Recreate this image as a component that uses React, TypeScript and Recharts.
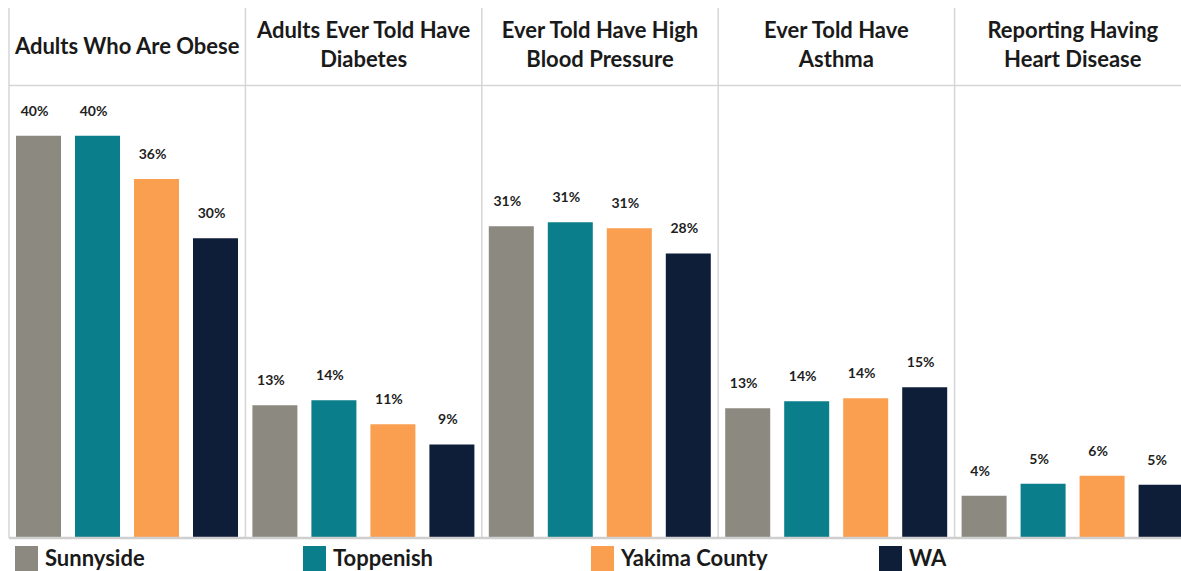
import { BarChart, Bar, XAxis, YAxis, CartesianGrid, ReferenceLine, LabelList, Legend } from 'recharts';

const categories = [
  'Adults Who Are Obese',
  'Adults Ever Told Have\nDiabetes',
  'Ever Told Have High\nBlood Pressure',
  'Ever Told Have\nAsthma',
  'Reporting Having\nHeart Disease',
];

const sunnyside = [40.0, 13.2, 31.0, 12.9, 4.2];
const toppenish = [40.0, 13.7, 31.4, 13.6, 5.4];
const yakimaCounty = [35.7, 11.3, 30.8, 13.9, 6.2];
const wa = [29.8, 9.3, 28.3, 15.0, 5.3];

const seriesNames = ['Sunnyside', 'Toppenish', 'Yakima County', 'WA'];
const seriesColors = ['#8C8981', '#0A7E8A', '#FA9E50', '#0F1E38'];

const data = categories.map((category, i) => ({
  category,
  Sunnyside: sunnyside[i],
  Toppenish: toppenish[i],
  'Yakima County': yakimaCounty[i],
  WA: wa[i],
}));

const FONT = 'Lato, "Open Sans", sans-serif';

function HeaderTick(props: any) {
  const { x, payload } = props;
  const lines = String(payload.value).split('\n');
  const ys = lines.length === 1 ? [54] : [38, 67];
  return (
    <g>
      {lines.map((line, i) => (
        <text
          key={i}
          x={x}
          y={ys[i]}
          textAnchor="middle"
          fontSize={22}
          fontWeight={700}
          fill="#1a1a1a"
          fontFamily={FONT}
        >
          {line}
        </text>
      ))}
    </g>
  );
}

function BarValue(props: any) {
  const { x, y, width, value } = props;
  return (
    <text
      x={x + width / 2 - 4}
      y={y - 20}
      textAnchor="middle"
      fontSize={14}
      fontWeight={700}
      fill="#1f1f1f"
      fontFamily={FONT}
    >
      {Math.round(value)}%
    </text>
  );
}

function LegendBox(props: any) {
  const payload = [...(props.payload || [])].sort(
    (a: any, b: any) => seriesNames.indexOf(a.value) - seriesNames.indexOf(b.value)
  );
  return (
    <div style={{ display: 'flex' }}>
      {payload.map((entry: any) => (
        <div key={entry.value} style={{ width: 288, display: 'flex', alignItems: 'flex-start' }}>
          <span style={{ width: 23, height: 25, background: entry.color, display: 'inline-block' }} />
          <span
            style={{
              marginLeft: 7,
              fontSize: 22,
              fontWeight: 700,
              color: '#1a1a1a',
              fontFamily: FONT,
              lineHeight: '23px',
            }}
          >
            {entry.value}
          </span>
        </div>
      ))}
    </div>
  );
}

export default function App() {
  return (
    <div
      style={{
        position: 'fixed',
        left: 0,
        top: 0,
        width: 1181,
        height: 571,
        overflow: 'hidden',
        background: '#fff',
        fontFamily: FONT,
      }}
    >
      <BarChart
        width={1200}
        height={600}
        data={data}
        margin={{ top: 0, right: 9, bottom: 62, left: 9 }}
        barSize={45}
        barGap={14}
      >
        <CartesianGrid
          horizontal={false}
          stroke="#D6D6D6"
          strokeWidth={1.5}
          verticalCoordinatesGenerator={({ offset }: any) =>
            [0, 1, 2, 3, 4, 5].map((i) => offset.left + (i * offset.width) / 5)
          }
        />
        <XAxis
          dataKey="category"
          orientation="top"
          height={8}
          axisLine={false}
          tickLine={false}
          interval={0}
          tick={<HeaderTick />}
        />
        <YAxis hide domain={[0, 52.7]} />
        <ReferenceLine y={45} stroke="#D6D6D6" strokeWidth={1.5} />
        {seriesNames.map((name, i) => (
          <Bar key={name} dataKey={name} fill={seriesColors[i]} isAnimationActive={false}>
            <LabelList dataKey={name} content={<BarValue />} />
          </Bar>
        ))}
        <ReferenceLine y={0} stroke="#CFCFCF" strokeWidth={2.5} />
        <Legend
          layout="horizontal"
          verticalAlign="middle"
          align="center"
          content={<LegendBox />}
          wrapperStyle={{ left: 15, top: 546, width: 1160 }}
        />
      </BarChart>
    </div>
  );
}
